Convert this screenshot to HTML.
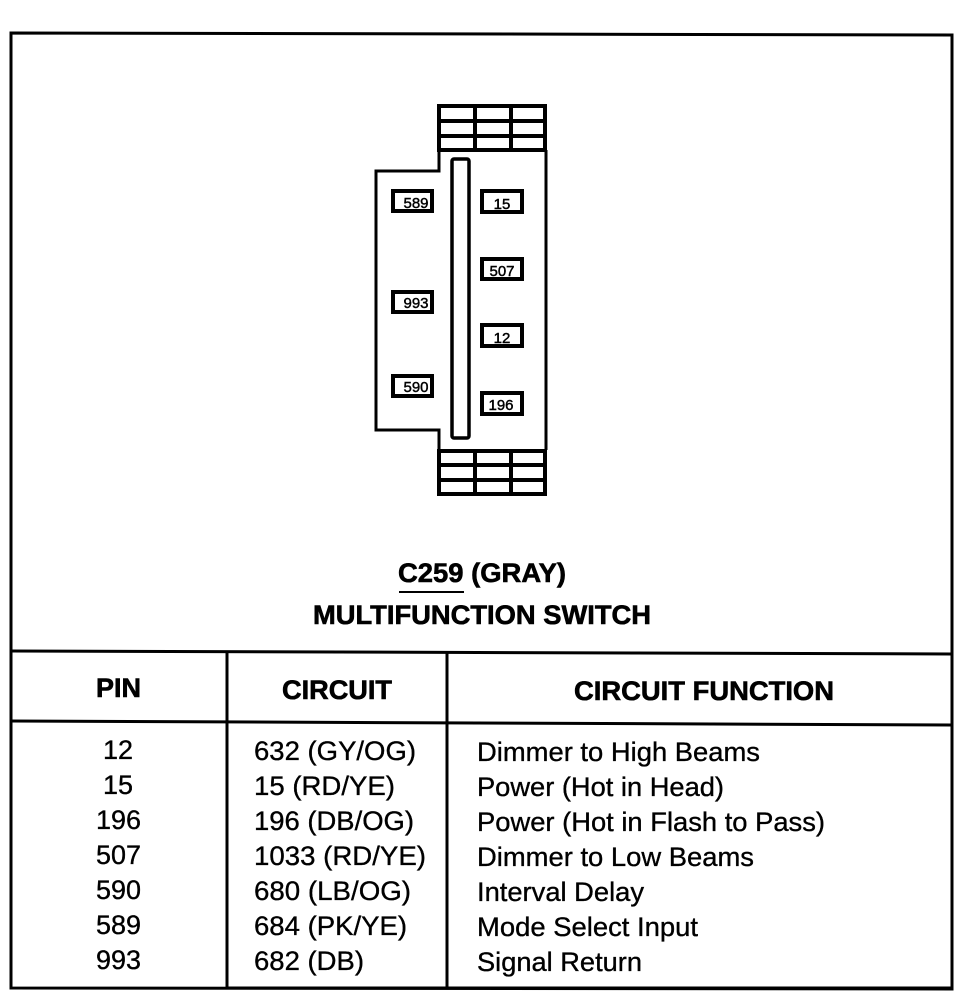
<!DOCTYPE html>
<html><head><meta charset="utf-8"><style>
html,body{margin:0;padding:0;background:#fff;width:966px;height:1008px;overflow:hidden}
svg{display:block}
text{font-family:"Liberation Sans",sans-serif;fill:#000;stroke:#000;stroke-width:.25}
.b{font-weight:bold;font-size:27px;stroke-width:.6}
.r{font-size:27px;stroke-width:.35}
.p{font-size:15px;text-anchor:middle;stroke-width:.45}
</style></head><body>
<svg width="966" height="1008" viewBox="0 0 966 1008" xmlns="http://www.w3.org/2000/svg">
<rect width="966" height="1008" fill="#fff"/>
<g fill="none" stroke="#000">
<path d="M11 33L952 35V989L11 988Z" stroke-width="3"/>
<path d="M11 651L952 654" stroke-width="3"/>
<path d="M11 721L952 725" stroke-width="3"/>
<path d="M227 652V988M447 653V988" stroke-width="3"/>
<path d="M227 988H952" stroke-width="3"/>
<path d="M439 150V171H376V430H439V450M546 150V450" stroke-width="3"/>
<path d="M439 106H545V150H439ZM439 121H545M439 136H545M475 106V150M511 106V150" stroke-width="4"/>
<path d="M439 451H545V494H439ZM439 465H545M439 480H545M475 451V494M511 451V494" stroke-width="4"/>
<rect x="452" y="159" width="17" height="279" rx="2" stroke-width="3.5"/>
<g stroke-width="4">
<rect x="393" y="191" width="39" height="20"/>
<rect x="482" y="191" width="40" height="21"/>
<rect x="482" y="259" width="40" height="20"/>
<rect x="393" y="292" width="39" height="20"/>
<rect x="482" y="325" width="40" height="21"/>
<rect x="393" y="376" width="39" height="20"/>
<rect x="482" y="393" width="40" height="21"/>
</g>
<path d="M399 592H464" stroke-width="2"/>
</g>
<text class="p" x="416" y="208">589</text>
<text class="p" x="502" y="209">15</text>
<text class="p" x="502" y="276">507</text>
<text class="p" x="416" y="308">993</text>
<text class="p" x="502" y="343">12</text>
<text class="p" x="416" y="392">590</text>
<text class="p" x="501" y="410">196</text>
<text class="b" x="398" y="582" textLength="168" lengthAdjust="spacingAndGlyphs">C259 (GRAY)</text>
<text class="b" x="313" y="624" textLength="338" lengthAdjust="spacingAndGlyphs">MULTIFUNCTION SWITCH</text>
<text class="b" x="96" y="697" textLength="45" lengthAdjust="spacingAndGlyphs">PIN</text>
<text class="b" x="282" y="699" textLength="110" lengthAdjust="spacingAndGlyphs">CIRCUIT</text>
<text class="b" x="574" y="700" textLength="260" lengthAdjust="spacingAndGlyphs">CIRCUIT FUNCTION</text>
<g class="pins">
<text class="r" x="103" y="759" textLength="30" lengthAdjust="spacingAndGlyphs">12</text>
<text class="r" x="103" y="794" textLength="30" lengthAdjust="spacingAndGlyphs">15</text>
<text class="r" x="96" y="829" textLength="45" lengthAdjust="spacingAndGlyphs">196</text>
<text class="r" x="96" y="864" textLength="45" lengthAdjust="spacingAndGlyphs">507</text>
<text class="r" x="96" y="899" textLength="45" lengthAdjust="spacingAndGlyphs">590</text>
<text class="r" x="96" y="934" textLength="45" lengthAdjust="spacingAndGlyphs">589</text>
<text class="r" x="96" y="969" textLength="45" lengthAdjust="spacingAndGlyphs">993</text>
</g>
<text class="r" x="254" y="760" textLength="162" lengthAdjust="spacingAndGlyphs">632 (GY/OG)</text>
<text class="r" x="254" y="795" textLength="141" lengthAdjust="spacingAndGlyphs">15 (RD/YE)</text>
<text class="r" x="254" y="830" textLength="160" lengthAdjust="spacingAndGlyphs">196 (DB/OG)</text>
<text class="r" x="254" y="865" textLength="172" lengthAdjust="spacingAndGlyphs">1033 (RD/YE)</text>
<text class="r" x="254" y="900" textLength="157" lengthAdjust="spacingAndGlyphs">680 (LB/OG)</text>
<text class="r" x="254" y="935" textLength="153" lengthAdjust="spacingAndGlyphs">684 (PK/YE)</text>
<text class="r" x="254" y="970" textLength="110" lengthAdjust="spacingAndGlyphs">682 (DB)</text>
<text class="r" x="477" y="761" textLength="283" lengthAdjust="spacingAndGlyphs">Dimmer to High Beams</text>
<text class="r" x="477" y="796" textLength="247" lengthAdjust="spacingAndGlyphs">Power (Hot in Head)</text>
<text class="r" x="477" y="831" textLength="348" lengthAdjust="spacingAndGlyphs">Power (Hot in Flash to Pass)</text>
<text class="r" x="477" y="866" textLength="277" lengthAdjust="spacingAndGlyphs">Dimmer to Low Beams</text>
<text class="r" x="477" y="901" textLength="167" lengthAdjust="spacingAndGlyphs">Interval Delay</text>
<text class="r" x="477" y="936" textLength="221" lengthAdjust="spacingAndGlyphs">Mode Select Input</text>
<text class="r" x="477" y="971" textLength="165" lengthAdjust="spacingAndGlyphs">Signal Return</text>
</svg>
</body></html>
